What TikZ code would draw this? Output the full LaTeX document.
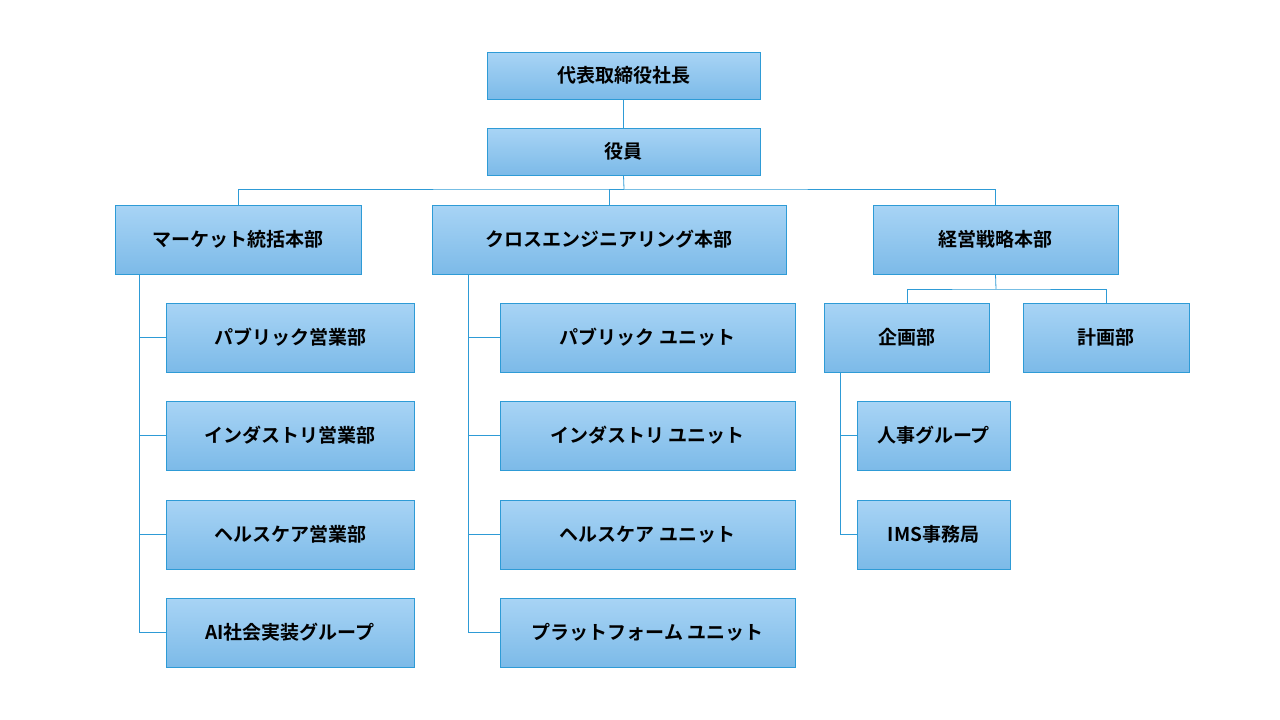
\documentclass[tikz,border=0pt]{standalone}
\usepackage{fontspec}
\setmainfont{Noto Sans CJK JP}[BoldFont={* Bold}]
\begin{document}
\begin{tikzpicture}[x=1pt,y=-1pt,
  box/.style={draw=boxline,line width=0.8pt,top color=boxtop,bottom color=boxbot,font=\bfseries\fontsize{19}{22}\selectfont,inner sep=0pt},
  ln/.style={draw=boxline,line width=0.8pt}]
\definecolor{boxline}{HTML}{2E9BD6}
\definecolor{boxtop}{HTML}{A8D4F5}
\definecolor{boxbot}{HTML}{7CBAE8}
\useasboundingbox (0,0) rectangle (1280,720);
\newcommand\bx[6]{\node[box,minimum width=#4-#2,minimum height=#5-#3] (#1) at ({(#2+#4)/2},{(#3+#5)/2}) {#6};}
\bx{ceo}{487}{52}{760}{99}{代表取締役社長}
\bx{exe}{487}{128}{760}{175}{役員}
\bx{mk}{115}{205}{361}{274}{マーケット統括本部}
\bx{cr}{432}{205}{786}{274}{クロスエンジニアリング本部}
\bx{kei}{873}{205}{1118}{274}{経営戦略本部}
\bx{l1}{166}{303}{414}{372}{パブリック営業部}
\bx{l2}{166}{401}{414}{470}{インダストリ営業部}
\bx{l3}{166}{500}{414}{569}{ヘルスケア営業部}
\bx{l4}{166}{598}{414}{667}{AI社会実装グループ}
\bx{m1}{500}{303}{795}{372}{パブリック ユニット}
\bx{m2}{500}{401}{795}{470}{インダストリ ユニット}
\bx{m3}{500}{500}{795}{569}{ヘルスケア ユニット}
\bx{m4}{500}{598}{795}{667}{プラットフォーム ユニット}
\bx{kk}{824}{303}{989}{372}{企画部}
\bx{ke}{1023}{303}{1189}{372}{計画部}
\bx{jg}{857}{401}{1010}{470}{人事グループ}
\bx{ims}{857}{500}{1010}{569}{IMS事務局}
\draw[ln] (ceo.south) -- (exe.north);
\coordinate (h) at (624,189);
\draw[ln] (exe.south) -- (h);
\draw[ln] (mk.north -| 238,0) |- (h) -| (kei.north);
\draw[ln] (h) -| (609,205);
\coordinate (ls) at (139,274);
\coordinate (ms) at (468,274);
\draw[ln] (ls) |- (l4.west);
\foreach \n in {l1,l2,l3} \draw[ln] (ls) |- (\n.west);
\draw[ln] (ms) |- (m4.west);
\foreach \n in {m1,m2,m3} \draw[ln] (ms) |- (\n.west);
\coordinate (kh) at (996,289);
\draw[ln] (kei.south) -- (kh);
\draw[ln] (kk.north -| 907,0) |- (kh) -| (ke.north -| 1106,0);
\coordinate (ks) at (840,372);
\draw[ln] (ks) |- (jg.west);
\draw[ln] (ks) |- (ims.west);
\end{tikzpicture}
\end{document}
